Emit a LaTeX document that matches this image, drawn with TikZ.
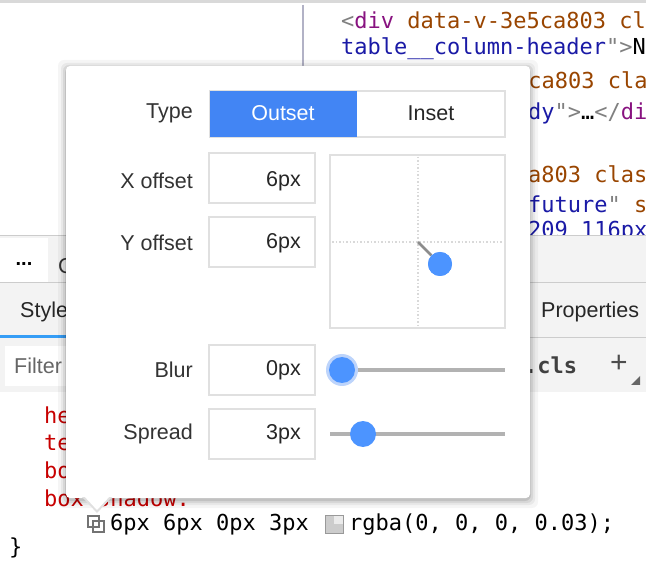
\documentclass[tikz,border=0pt]{standalone}
\usepackage{fontspec}
\setmainfont{Liberation Sans}
\newfontfamily\monof{DejaVu Sans Mono}
\begin{document}
\begin{tikzpicture}[x=1pt,y=-1pt,
  lbl/.style={anchor=east,text=black!80,font=\fontsize{21.5}{23}\selectfont,inner sep=0},
  inp/.style={draw=black!12,line width=1.2pt,fill=white},
  val/.style={anchor=east,text=black!85,font=\fontsize{21.5}{23}\selectfont,inner sep=0},
  code/.style={anchor=west,inner sep=0,font=\monof\fontsize{22}{23}\selectfont},
  knob/.style={fill=blue!60!cyan!70!white,draw=none}]
\definecolor{cblue}{HTML}{4285F4}
\definecolor{attr}{HTML}{994500}
\definecolor{tagc}{HTML}{881280}
\definecolor{valc}{HTML}{1A1AA6}
\definecolor{propred}{HTML}{C80000}
\definecolor{bandg}{HTML}{F3F3F3}
\useasboundingbox (0,0) rectangle (646,572);
\fill[white] (0,0) rectangle (646,572);
\fill[black!15] (0,0) rectangle (646,3);
\draw[blue!25!black!30,line width=1.2pt] (303,5) -- (303,70);
% code top
\node[code] (c1) at (341,20) {\textcolor{black!50}{<}\textcolor{tagc}{div} \textcolor{attr}{data-v-3e5ca803 cl}};
\node[code] (c2) at (341,49) {\textcolor{valc}{table\_\_column-header}\textcolor{black!50}{">}N};
\node[code] (c3) at (515,80) {\textcolor{attr}{5ca803 cla}};
\node[code] (c4) at (528,113) {\textcolor{valc}{dy}\textcolor{black!50}{">}…\textcolor{black!50}{</}\textcolor{tagc}{di}};
\node[code] (c5) at (528,174) {\textcolor{attr}{a803 clas}};
\node[code] (c6) at (528,204) {\textcolor{valc}{future}\textcolor{black!50}{"} \textcolor{attr}{st}};
\begin{scope}
\clip (0,0) rectangle (646,236);
\node[code] (c7) at (528,232) {\textcolor{valc}{209 116px}};
\end{scope}
% bands
\fill[bandg] (0,236) rectangle (646,392);
\fill[white] (0,238) rectangle (48,282);
\draw[black!20,line width=1pt] (0,236) -- (646,236);
\draw[black!20,line width=1pt] (0,283) -- (646,283);
\draw[black!20,line width=1pt] (0,338) -- (646,338);
\fill[cblue!80!cyan] (0,335) rectangle (66,338);
\node[inner sep=0,font=\bfseries\fontsize{20}{22}\selectfont] (dots) at (24,264) {...};
\node[anchor=west,inner sep=0,font=\fontsize{21.5}{23}\selectfont,text=black!80] (cc) at (58,266) {C};
\node[anchor=west,inner sep=0,font=\fontsize{21.5}{23}\selectfont,text=black!85] (sty) at (20,312) {Styles};
\node[anchor=west,inner sep=0,font=\fontsize{21.5}{23}\selectfont,text=black!85] (prop) at (541,312) {Properties};
\fill[white] (5,346) rectangle (90,386);
\node[anchor=west,inner sep=0,font=\fontsize{21.5}{23}\selectfont,text=black!60] (filt) at (14,366) {Filter};
\node[anchor=west,inner sep=0,font=\monof\bfseries\fontsize{22}{23}\selectfont,text=black!75] (cls) at (524,365) {.cls};
\node[inner sep=0,font=\fontsize{30}{30}\selectfont,text=black!70] (plus) at (619,364) {+};
\fill[black!60] (640,376) -- (640,385) -- (631,385) -- cycle;
% red props
\begin{scope}[every node/.style={code,text=propred}]
\node (p1) at (44,415) {he};
\node (p2) at (44,443) {te};
\node (p3) at (44,470) {bo};
\node (p4) at (44,498) {box-shadow:};
\end{scope}
\draw[black!55,line width=1.2pt] (88,516) rectangle (99,527);
\draw[black!55,line width=1.2pt] (93,521) rectangle (104,532);
\node[code] (sv) at (110,525) {6px 6px 0px 3px};
\fill[black!20] (325,515) rectangle (343,533);
\fill[black!8] (334,515) rectangle (343,524);
\draw[black!40] (325,515) rectangle (343,533);
\node[code] (rg) at (349,525) {rgba(0, 0, 0, 0.03);};
\node[code] (br) at (9,548) {\}};
% popup shadow + body
\foreach \i/\o in {8/04,5/05,3/07,1/10}{\fill[black,opacity=0.\o,rounded corners=6] (66-\i,66-\i+2) rectangle (530+\i,498+\i+2);}
\fill[white,rounded corners=4] (66,66) rectangle (530,498);
\fill[black!12] (82,497) -- (97,513) -- (112,497) -- cycle;
\fill[white] (84,496) -- (97,510) -- (110,496) -- cycle;
% type
\node[lbl] (tl) at (193,113) {Type};
\draw[inp] (210,91) rectangle (505,137);
\fill[cblue] (210,91) rectangle (357,137);
\node[font=\fontsize{21.5}{23}\selectfont,text=white,inner sep=0] (out) at (283,113) {Outset};
\node[font=\fontsize{21.5}{23}\selectfont,text=black!85,inner sep=0] (ins) at (431,113) {Inset};
% offsets
\node[lbl] (xl) at (193,181) {X offset};
\draw[inp] (209,153) rectangle (315,203);
\node[val] (xv) at (301,181) {6px};
\node[lbl] (yl) at (193,243) {Y offset};
\draw[inp] (209,217) rectangle (315,267);
\node[val] (yv) at (301,243) {6px};
% pad
\draw[inp] (330,155) rectangle (505,328);
\draw[black!15,dotted,line width=1.5pt] (418,157) -- (418,326);
\draw[black!15,dotted,line width=1.5pt] (332,242) -- (503,242);
\coordinate (org) at (418,242);
\node[knob,circle,minimum size=24pt,inner sep=0] (dot) at (440,264) {};
\draw[black!45,line width=2.5pt] (org) -- (dot);
\node[knob,circle,minimum size=24pt,inner sep=0] at (440,264) {};
% blur
\node[lbl] (bl) at (193,370) {Blur};
\draw[inp] (209,345) rectangle (315,395);
\node[val] (bv) at (301,370) {0px};
\draw[black!30,line width=4pt] (330,370) -- (505,370);
\fill[cblue!35] (342,370) circle (16);
\node[knob,circle,minimum size=26pt,inner sep=0] (bk) at (342,370) {};
% spread
\node[lbl] (sl) at (193,434) {Spread};
\draw[inp] (209,409) rectangle (315,459);
\node[val] (spv) at (301,434) {3px};
\draw[black!30,line width=4pt] (330,434) -- (505,434);
\node[knob,circle,minimum size=26pt,inner sep=0] (sk) at (363,434) {};
\end{tikzpicture}
\end{document}
